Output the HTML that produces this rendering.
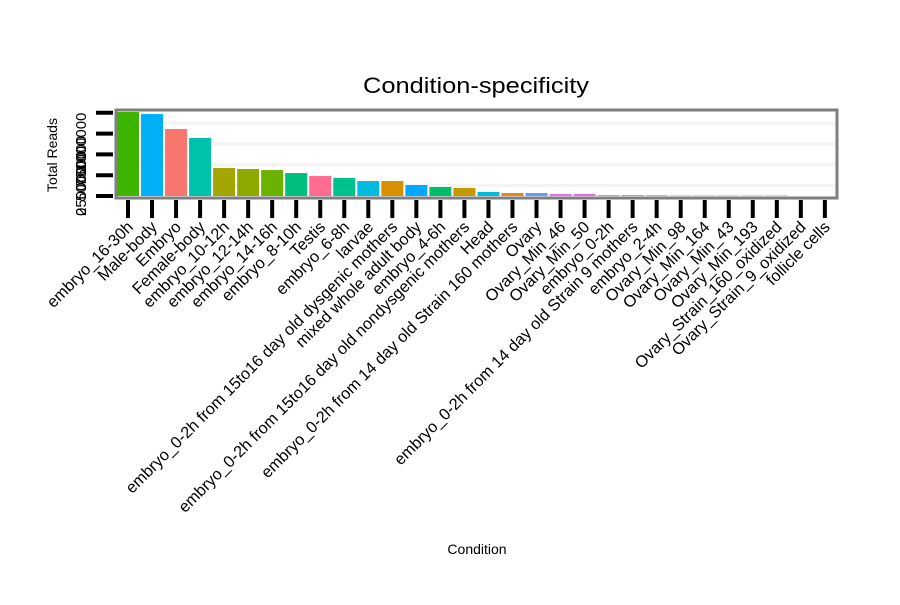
<!DOCTYPE html>
<html><head><meta charset="utf-8"><style>
body{margin:0;background:#fff;font-family:"Liberation Sans",sans-serif}
svg text{font-family:"Liberation Sans",sans-serif}
</style></head><body>
<svg width="900" height="600" xmlns="http://www.w3.org/2000/svg">
<text x="476" y="93" font-size="22" text-anchor="middle" textLength="226" lengthAdjust="spacingAndGlyphs">Condition-specificity</text>
<text x="57" y="155" font-size="14" text-anchor="middle" transform="rotate(-90 57 155)">Total Reads</text>
<text x="477" y="554" font-size="14" text-anchor="middle">Condition</text>
<g id="grid"></g><g id="bars"></g><g id="axes"></g>
<rect x="116" y="110" width="721" height="88" fill="none" stroke="#7f7f7f" stroke-width="3"/>
</svg>
<script>
const categories=["embryo_16-30h","Male-body","Embryo","Female-body","embryo_10-12h","embryo_12-14h","embryo_14-16h","embryo_8-10h","Testis","embryo_6-8h","larvae","embryo_0-2h from 15to16 day old dysgenic mothers","mixed whole adult body","embryo_4-6h","embryo_0-2h from 15to16 day old nondysgenic mothers","Head","embryo_0-2h from 14 day old Strain 160 mothers","Ovary","Ovary_Min_46","Ovary_Min_50","embryo_0-2h","embryo_0-2h from 14 day old Strain 9 mothers","embryo_2-4h","Ovary_Min_98","Ovary_Min_164","Ovary_Min_43","Ovary_Min_193","Ovary_Strain_160_oxidized","Ovary_Strain_9_oxidized","follicle cells"];
const values=[1010000,985000,805000,697000,336000,325000,312000,276000,240000,216000,180000,180000,132000,108000,96000,48000,36000,36000,24000,24000,10000,10000,6000,5000,5000,5000,5000,5000,0,0];
const colors=["#3db500","#00b0f6","#f8766d","#00c1a9","#a3a500","#8fa900","#6bb100","#00bf7d","#ff6c91","#00c08b","#00bae0","#d89000","#00a9ff","#00be67","#c49a00","#00bcd8","#e68613","#619cff","#e76bf3","#f066ea","#ed8141","#c59900","#00ba38","#fc61d5","#9590ff","#c77cff","#b983ff","#ff62bc","#ff65ac","#f8766d"];
const yTicks=[0,250000,500000,750000,1000000];
const yTickLabels=["0","250000","500000","750000","1000000"];
const NS="http://www.w3.org/2000/svg";
const x0=128,step=24.03,y0=196,yPer=20.8/250000;
const xs=i=>x0+i*step, ys=v=>y0-v*yPer;
function mk(t,a,p){const e=document.createElementNS(NS,t);for(const k in a)e.setAttribute(k,a[k]);p.appendChild(e);return e;}
const grid=document.getElementById('grid'),bars=document.getElementById('bars'),axes=document.getElementById('axes');
for(let i=0;i<yTicks.length-1;i++){
  const y=ys((yTicks[i]+yTicks[i+1])/2);
  const g=mk('line',{x1:117,x2:836,y1:y,y2:y,stroke:'#f3f3f3','stroke-width':3},grid);
  
  
}
values.forEach((v,i)=>{
  const h=Math.max(v*yPer,0);
  const r=mk('rect',{x:xs(i)-11,y:ys(v),width:22,height:h,fill:colors[i]},bars);
  
  
  const t=mk('line',{x1:xs(i),x2:xs(i),y1:200,y2:218,stroke:'#000','stroke-width':4},axes);
  
  
  const lx=xs(i)+6,ly=228;
  const l=mk('text',{x:lx,y:ly,'font-size':16.3,'text-anchor':'end',transform:`rotate(-45 ${lx} ${ly})`},axes);
  l.textContent=categories[i];
  
  
});
yTicks.forEach((v,i)=>{
  const y=ys(v);
  const t=mk('line',{x1:96,x2:113,y1:y,y2:y,stroke:'#000','stroke-width':4},axes);
  
  
  const sy=Math.min(216,231-i*15);
  const l=mk('text',{x:86,y:sy,'font-size':15,'text-anchor':'start',transform:`rotate(-90 86 ${sy})`},axes);
  l.textContent=yTickLabels[i];
  
  
});
</script>
</body></html>
